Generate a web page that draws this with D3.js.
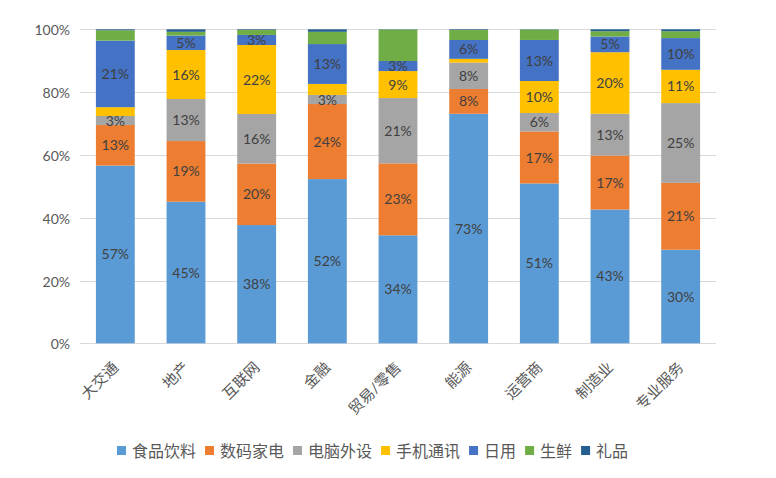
<!DOCTYPE html>
<html><head><meta charset="utf-8">
<script src="https://cdn.jsdelivr.net/npm/d3@7"></script>
<style>body{margin:0;background:#fff} svg{display:block}</style>
</head><body><svg id="chart" width="776" height="478"></svg>
<script>
const categories = ["大交通","地产","互联网","金融","贸易/零售","能源","运营商","制造业","专业服务"];
const seriesNames = ["食品饮料","数码家电","电脑外设","手机通讯","日用","生鲜","礼品"];
const food     = [56.6, 45.1, 37.7, 52.3, 34.4, 73.1, 51.0, 42.6, 29.8];
const digital  = [12.9, 19.3, 19.6, 23.9, 22.9,  7.9, 16.6, 17.2, 21.3];
const computer = [ 2.9, 13.4, 15.8,  2.9, 20.8,  8.4,  5.9, 13.3, 25.4];
const phone    = [ 2.8, 15.6, 22.0,  3.5,  8.6,  1.2, 10.2, 19.6, 10.6];
const daily    = [21.2,  4.6,  3.2, 12.7,  3.2,  6.0, 13.1,  5.0, 10.1];
const fresh    = [ 3.3,  1.2,  1.6,  3.9, 10.0,  3.2,  3.3,  1.7,  2.2];
const gift     = [ 0.3,  0.8,  0.2,  0.8,  0.1,  0.2,  0.1,  0.6,  0.6];
const yTickValues = [0, 0.2, 0.4, 0.6, 0.8, 1];
const seriesColors = ["#5B9BD5","#ED7D31","#A5A5A5","#FFC000","#4472C4","#70AD47","#255E91"];
const labeledSeries = ["食品饮料","数码家电","电脑外设","手机通讯","日用"];
const hiddenLabels = [["大交通","手机通讯"],["金融","手机通讯"],["能源","手机通讯"]];

const seriesValues = [food, digital, computer, phone, daily, fresh, gift];
const rows = categories.map((c, i) => {
  const r = {category: c};
  seriesNames.forEach((s, j) => r[s] = seriesValues[j][i]);
  return r;
});
const stacked = d3.stack().keys(seriesNames).offset(d3.stackOffsetExpand)(rows);
const color = d3.scaleOrdinal().domain(seriesNames).range(seriesColors);

const svg = d3.select("#chart");
const plotLeft = 80, plotRight = 716, plotTop = 29.3, plotBottom = 343.3;
const x = d3.scaleBand().domain(categories).range([plotLeft, plotRight]).paddingInner(0.45).paddingOuter(0.225);
const y = d3.scaleLinear().domain([0, 1]).range([plotBottom, plotTop]);

const font = "Lato, 'Noto Sans CJK SC', sans-serif";

// y axis + gridlines
const yAxis = svg.append("g").attr("transform", `translate(${plotLeft},0)`)
  .call(d3.axisLeft(y).tickValues(yTickValues).tickFormat(d3.format(".0%")).tickSize(-(plotRight - plotLeft)).tickPadding(10));
yAxis.select(".domain").remove();
yAxis.selectAll("line").attr("stroke", "#D9D9D9").attr("stroke-width", 1).attr("shape-rendering", "crispEdges");
yAxis.selectAll("text").attr("fill", "#595959").style("font-family", font).style("font-size", "14px").attr("dy", "0.4em");

// bars
const layers = svg.append("g").selectAll("g").data(stacked).join("g").attr("fill", d => color(d.key));
layers.selectAll("rect").data(d => d.map(v => ({key: d.key, cat: v.data.category, y0: v[0], y1: v[1]})))
  .join("rect")
  .attr("x", d => x(d.cat))
  .attr("y", d => y(d.y1))
  .attr("width", x.bandwidth())
  .attr("height", d => y(d.y0) - y(d.y1));

// data labels
const isHidden = (cat, key) => hiddenLabels.some(h => h[0] === cat && h[1] === key);
const labelData = [];
stacked.forEach(layer => {
  if (!labeledSeries.includes(layer.key)) return;
  layer.forEach(v => {
    if (isHidden(v.data.category, layer.key)) return;
    labelData.push({cat: v.data.category, mid: (v[0] + v[1]) / 2, val: v[1] - v[0]});
  });
});
svg.append("g").selectAll("text").data(labelData).join("text")
  .attr("x", d => x(d.cat) + x.bandwidth() / 2)
  .attr("y", d => y(d.mid))
  .attr("text-anchor", "middle")
  .attr("dy", "0.36em")
  .attr("fill", "#404040")
  .style("font-family", font).style("font-size", "14px")
  .text(d => Math.round(d.val * 100) + "%");

// x axis labels
const xAxis = svg.append("g").attr("transform", `translate(0,${plotBottom})`)
  .call(d3.axisBottom(x).tickSize(0));
xAxis.select(".domain").remove();
xAxis.selectAll("text")
  .attr("fill", "#595959")
  .style("font-family", font).style("font-size", "15px")
  .attr("text-anchor", "end")
  .attr("dy", null).attr("y", null)
  .attr("transform", "translate(4,25) rotate(-45)");

// legend
const legend = svg.append("g");
let lx = 117;
const ly = 451;
seriesNames.forEach((s, i) => {
  legend.append("rect").attr("x", lx).attr("y", ly - 5).attr("width", 9).attr("height", 9).attr("fill", color(s));
  const t = legend.append("text").attr("x", lx + 15).attr("y", ly).attr("dy", "0.36em")
    .attr("fill", "#595959").style("font-family", font).style("font-size", "16px").text(s);
  lx += 15 + t.node().getComputedTextLength() + 9;
});
</script></body></html>
